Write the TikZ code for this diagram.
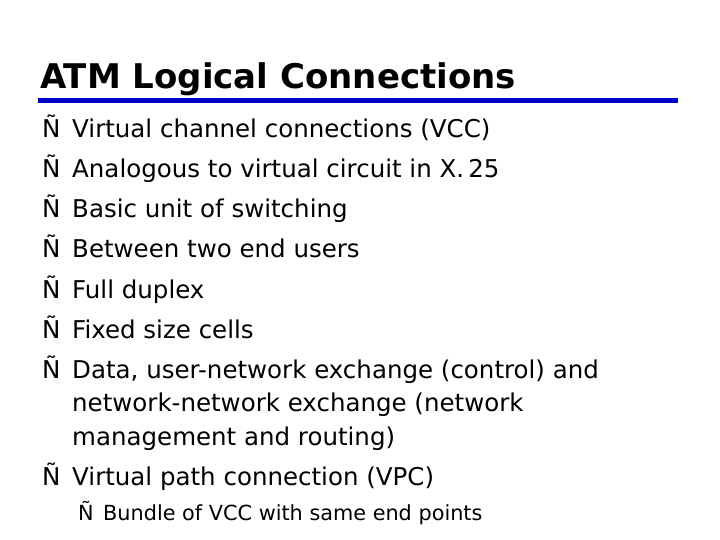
\documentclass[tikz,border=0pt]{standalone}
\usepackage{fontspec}
\setmainfont{DejaVu Sans}
\begin{document}
\begin{tikzpicture}[x=1pt,y=-1pt,
  body/.style={anchor=base west,inner sep=0pt,font=\fontsize{24.5}{26}\selectfont},
  sub/.style={anchor=base west,inner sep=0pt,font=\fontsize{20.8}{22}\selectfont},
  title/.style={anchor=base west,inner sep=0pt,font=\bfseries\fontsize{34}{36}\selectfont}]
\useasboundingbox (0,0) rectangle (720,540);
\node[title] (t) at (40,89) {ATM Logical Connections};
\draw[line width=5pt,color={rgb,255:red,0;green,0;blue,204}] (38,101) -- (678,101);
\foreach \y/\txt [count=\i] in {138/Virtual channel connections (VCC),178/Analogous to virtual circuit in X.\,25,218/Basic unit of switching,258/Between two end users,298/Full duplex,338/Fixed size cells,378/{Data, user-network exchange (control) and},485/Virtual path connection (VPC)}{
  \node[body] (b\i) at (42,\y) {Ñ};
  \node[body] (l\i) at (72,\y) {\txt};
}
\node[body] (c1) at (72,411) {network-network exchange (network};
\node[body] (c2) at (72,445) {management and routing)};
\node[sub] (sb) at (78,520) {Ñ};
\node[sub] (sl) at (103,520) {Bundle of VCC with same end points};
\end{tikzpicture}
\end{document}
